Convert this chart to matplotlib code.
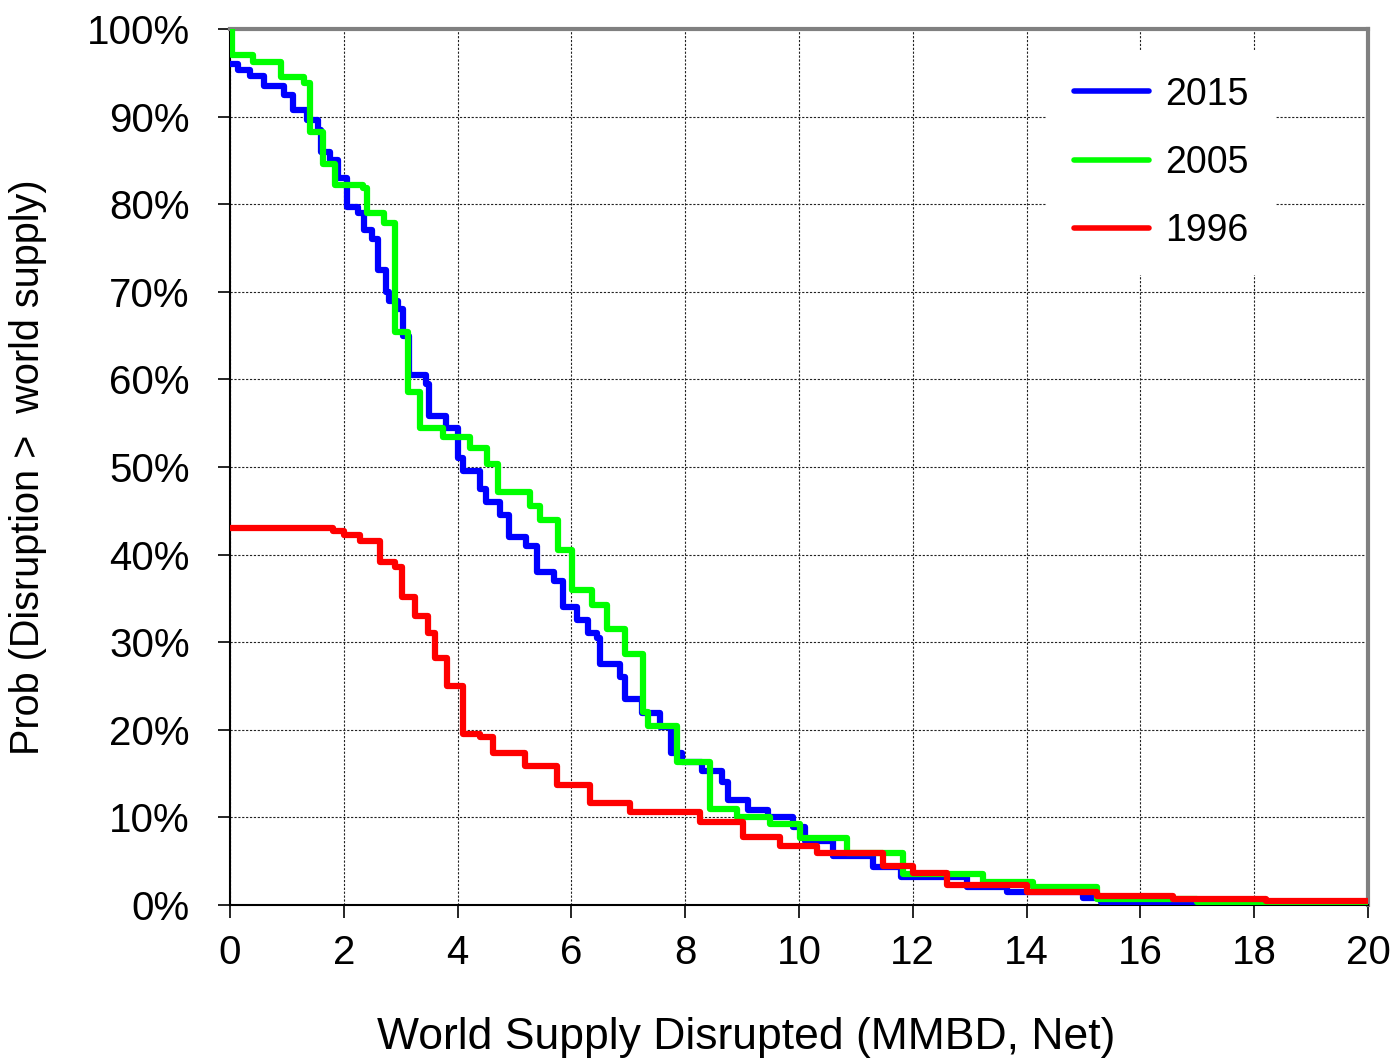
import numpy as np
import matplotlib.pyplot as plt
from matplotlib.ticker import PercentFormatter

plt.rcParams['font.family'] = ['Liberation Sans', 'DejaVu Sans']

# Step curves: probability (%) holds from x[i] until x[i+1]
x_2015 = [0, 0.15, 0.35, 0.6, 0.95, 1.1, 1.35, 1.55, 1.6, 1.75, 1.9, 2.05, 2.25, 2.35,
          2.5, 2.6, 2.75, 2.8, 2.95, 3.05, 3.15, 3.45, 3.5, 3.8, 4.0, 4.1, 4.4, 4.5,
          4.75, 4.9, 5.2, 5.4, 5.7, 5.85, 6.1, 6.3, 6.45, 6.5, 6.85, 6.95, 7.25, 7.55,
          7.75, 7.95, 8.3, 8.65, 8.75, 9.1, 9.45, 9.9, 10.1, 10.6, 11.3, 11.8, 12.95,
          13.65, 15.0, 15.3, 20]
y_2015 = [96.0, 95.3, 94.6, 93.5, 92.5, 90.8, 89.6, 88.5, 86.0, 85.0, 83.0, 79.7, 79.0, 77.0,
          76.0, 72.5, 70.0, 69.0, 68.0, 65.0, 60.5, 59.5, 55.8, 54.5, 51.0, 49.5, 47.5, 46.0,
          44.5, 42.0, 41.0, 38.0, 37.0, 34.0, 32.5, 31.0, 30.5, 27.5, 26.0, 23.5, 21.9, 20.3,
          17.4, 16.3, 15.3, 14.0, 12.0, 10.8, 10.0, 8.9, 7.3, 5.6, 4.3, 3.2, 2.1,
          1.5, 0.8, 0.3, 0.2]

x_2005 = [0, 0.03, 0.4, 0.9, 1.3, 1.4, 1.63, 1.85, 2.34, 2.4, 2.7, 2.9, 3.13, 3.34,
          3.74, 4.22, 4.52, 4.71, 5.27, 5.45, 5.76, 6.01, 6.36, 6.63, 6.94, 7.26, 7.35,
          7.86, 8.44, 8.91, 9.5, 10.02, 10.84, 11.83, 13.23, 14.11, 15.24, 17.0, 20]
y_2005 = [100.0, 97.0, 96.2, 94.5, 93.8, 88.2, 84.6, 82.2, 81.8, 79.0, 77.9, 65.4, 58.6, 54.5,
          53.4, 52.2, 50.3, 47.2, 45.5, 44.0, 40.5, 36.0, 34.3, 31.5, 28.7, 22.0, 20.4,
          16.3, 11.0, 10.0, 9.2, 7.7, 5.9, 3.5, 2.6, 2.0, 0.7, 0.3, 0.1]

x_1996 = [0, 1.81, 2.0, 2.28, 2.64, 2.9, 3.02, 3.25, 3.48, 3.6, 3.81, 4.09, 4.4, 4.62,
          5.18, 5.75, 6.33, 7.03, 8.26, 9.02, 9.67, 10.32, 11.48, 12.0, 12.6, 14.0,
          15.24, 16.57, 18.2, 20]
y_1996 = [43.0, 42.7, 42.2, 41.5, 39.2, 38.6, 35.2, 33.0, 31.1, 28.2, 25.0, 19.5, 19.2, 17.3,
          15.9, 13.7, 11.7, 10.6, 9.5, 7.8, 6.7, 5.9, 4.4, 3.7, 2.3, 1.5,
          1.0, 0.7, 0.5, 0.5]

fig = plt.figure(figsize=(13.97, 10.58), dpi=100)
ax = fig.add_axes([0.1646, 0.1446, 0.8146, 0.828])

ax.plot(x_2015, y_2015, drawstyle='steps-post', color='#0000ff', lw=4.5, label='2015',
        solid_joinstyle='round', zorder=3)
ax.plot(x_2005, y_2005, drawstyle='steps-post', color='#00ff00', lw=4.5, label='2005',
        solid_joinstyle='round', zorder=4)
ax.plot(x_1996, y_1996, drawstyle='steps-post', color='#ff0000', lw=4.5, label='1996',
        solid_joinstyle='round', zorder=5)

ax.set_xlim(0, 20)
ax.set_ylim(0, 100)
ax.set_xticks(np.arange(0, 21, 2))
ax.set_yticks(np.arange(0, 101, 10))
ax.yaxis.set_major_formatter(PercentFormatter(decimals=0))
ax.tick_params(axis='both', direction='out', length=9, width=1.2, labelsize=29)
ax.tick_params(axis='y', pad=20)
ax.tick_params(axis='x', pad=12)

ax.grid(True, color='#222222', linestyle=(0, (2, 1.5)), linewidth=0.8)
ax.set_axisbelow(True)

for side in ['left', 'bottom']:
    ax.spines[side].set_color('black')
    ax.spines[side].set_linewidth(1.5)
for side in ['top', 'right']:
    ax.spines[side].set_color('#808080')
    ax.spines[side].set_linewidth(3)

ax.set_xlabel('World Supply Disrupted (MMBD, Net)', fontsize=32)
ax.xaxis.set_label_coords(0.454, -0.128)
ax.set_ylabel('Prob (Disruption >  world supply)', fontsize=28.5)
ax.yaxis.set_label_coords(-0.161, 0.5)

leg = ax.legend(loc='upper right', bbox_to_anchor=(0.935, 0.997), fontsize=27, frameon=True,
                framealpha=1, edgecolor='none', handlelength=2.0, handletextpad=0.45,
                labelspacing=0.86, borderpad=0.7)
leg.set_zorder(6)
for line in leg.get_lines():
    line.set_solid_capstyle('round')
    line.set_linewidth(4)

fig.savefig('out.png', dpi=100)
